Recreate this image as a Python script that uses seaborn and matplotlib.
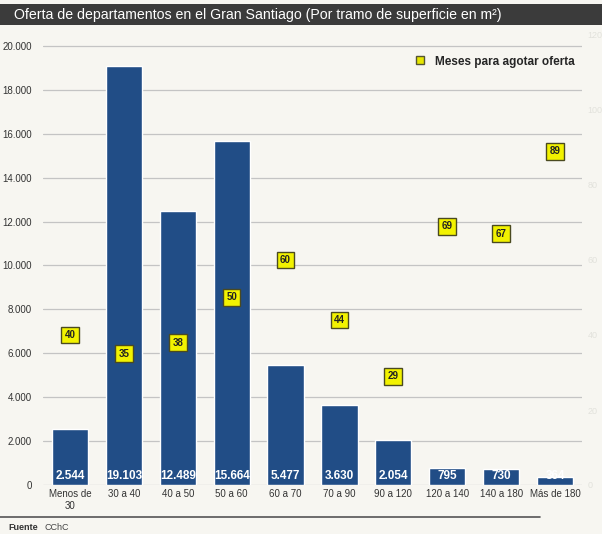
import matplotlib
matplotlib.use("Agg")
import matplotlib.pyplot as plt
import seaborn as sns
import pandas as pd
from matplotlib.patches import Rectangle
from matplotlib.lines import Line2D

categorias = ["Menos de\n30", "30 a 40", "40 a 50", "50 a 60", "60 a 70",
              "70 a 90", "90 a 120", "120 a 140", "140 a 180", "Más de 180"]
oferta = [2544, 19103, 12489, 15664, 5477, 3630, 2054, 795, 730, 364]
meses = [40, 35, 38, 50, 60, 44, 29, 69, 67, 89]
etiquetas_oferta = ["2.544", "19.103", "12.489", "15.664", "5.477", "3.630",
                    "2.054", "795", "730", "364"]
ticks_izq = [0, 2000, 4000, 6000, 8000, 10000, 12000, 14000, 16000, 18000, 20000]
ticks_izq_lbl = ["0", "2.000", "4.000", "6.000", "8.000", "10.000", "12.000",
                 "14.000", "16.000", "18.000", "20.000"]
ticks_der = [0, 20, 40, 60, 80, 100, 120]

sns.set_theme(style="white")
plt.rcParams['font.family'] = ['Liberation Sans', 'DejaVu Sans']

BG = "#f7f6f1"
BLUE = "#214d86"
W, H = 602, 534
fig = plt.figure(figsize=(W / 100, H / 100), dpi=100, facecolor=BG)

# title bar
fig.patches.append(Rectangle((0, 1 - 25 / H), 1, 21 / H, transform=fig.transFigure,
                             facecolor="#3b3b3b", edgecolor="none", zorder=0))
fig.text(14 / W, 1 - 14.5 / H,
         "Oferta de departamentos en el Gran Santiago (Por tramo de superficie en m²)",
         color="white", fontsize=10.2, va="center", ha="left")

ax = fig.add_axes([43 / W, (H - 485) / H, (582 - 43) / W, 450 / H])
ax.set_facecolor(BG)
df = pd.DataFrame({"tramo": categorias, "oferta": oferta})
sns.barplot(data=df, x="tramo", y="oferta", color=BLUE, width=0.67,
            saturation=1, ax=ax, zorder=2)
ax.set_xlim(-0.5, 9.5)
ax.set_ylim(0, 20500)
ax.set_yticks(ticks_izq)
ax.set_yticklabels(ticks_izq_lbl)
ax.set_xlabel("")
ax.set_ylabel("")
for s in ax.spines.values():
    s.set_visible(False)
ax.grid(axis="y", color="#c4c4c4", linewidth=0.9, zorder=0)
ax.set_axisbelow(True)
ax.tick_params(axis="y", labelsize=7, colors="#333333", length=0, pad=8)
ax.tick_params(axis="x", labelsize=7, colors="#333333", length=0, pad=3)

for i, lbl in enumerate(etiquetas_oferta):
    ax.text(i, 410, lbl, color="white", fontsize=8.5, fontweight="bold",
            ha="center", va="center", zorder=3)

ax2 = ax.twinx()
ax2.set_ylim(0, 120)
ax2.set_yticks(ticks_der)
ax2.tick_params(axis="y", labelsize=6.5, colors="#e2e2dc", length=0, pad=4)
for s in ax2.spines.values():
    s.set_visible(False)
ax2.grid(False)
for i, m in enumerate(meses):
    ax2.text(i, m, str(m), fontsize=7, fontweight="bold", color="#222222",
             ha="center", va="center", zorder=5,
             bbox=dict(boxstyle="square,pad=0.35", facecolor="#f2f200",
                       edgecolor="#4a4a20", linewidth=1.0))

handle = Line2D([], [], marker="s", linestyle="none", markersize=6,
                markerfacecolor="#e6e600", markeredgecolor="#555533")
leg = ax2.legend([handle], ["Meses para agotar oferta"], loc="upper right",
                 bbox_to_anchor=(1.0, 0.97), frameon=False,
                 prop={"weight": "bold", "size": 8.5}, handletextpad=0.3,
                 borderaxespad=0.2)

# bottom rule and source
fig.add_artist(Line2D([0, 540 / W], [1 - 517 / H, 1 - 517 / H],
                      transform=fig.transFigure, color="#555555", linewidth=1.2))
fig.text(8 / W, 1 - 528 / H, "Fuente", fontsize=6.5, fontweight="bold",
         color="#333333", va="center")
fig.text(44 / W, 1 - 528 / H, "CChC", fontsize=6.5, color="#444444", va="center")

fig.savefig("out.png", dpi=100, facecolor=BG)
